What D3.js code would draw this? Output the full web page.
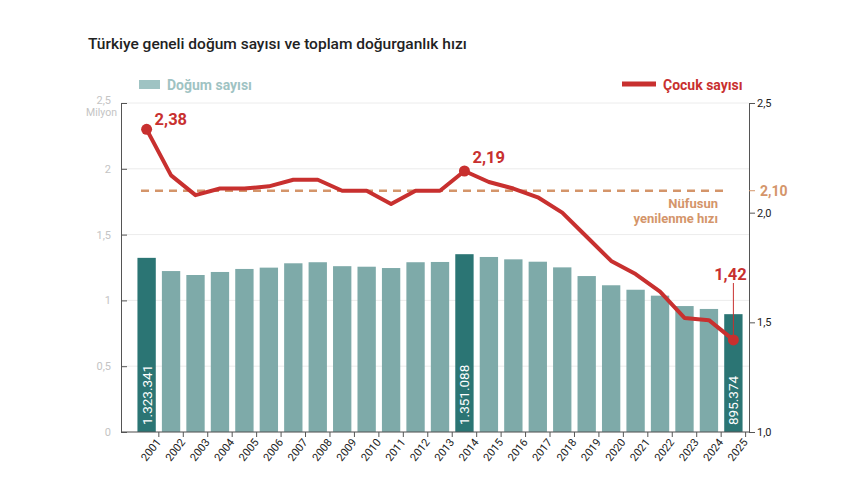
<!DOCTYPE html>
<html>
<head>
<meta charset="utf-8">
<script src="https://cdn.jsdelivr.net/npm/d3@7"></script>
<style>
  body { margin: 0; background: #fff; }
  svg { font-family: Roboto, "Noto Sans", sans-serif; }
</style>
</head>
<body>
<div id="chart"></div>
<script>
// Data
const years = ['2001','2002','2003','2004','2005','2006','2007','2008','2009','2010','2011','2012','2013',
  '2014','2015','2016','2017','2018','2019','2020','2021','2022','2023','2024','2025'];
const births = [1323341, 1223000, 1193000, 1216000, 1239000, 1249000, 1282000, 1290000, 1260000, 1256000,
  1246000, 1290000, 1292000, 1351088, 1330000, 1312000, 1294000, 1251000, 1185000, 1115000,
  1081000, 1036000, 957000, 935000, 895374];
const fertility = [2.38, 2.17, 2.08, 2.11, 2.11, 2.12, 2.15, 2.15, 2.10, 2.10, 2.04, 2.10, 2.10,
  2.19, 2.14, 2.11, 2.07, 2.00, 1.89, 1.78, 1.72, 1.64, 1.52, 1.51, 1.42];
const highlightYears = ['2001', '2014', '2025'];
const leftTicks = [0, 0.5, 1, 1.5, 2, 2.5];
const rightTicks = [1.0, 1.5, 2.0, 2.5];
const replacementRate = 2.10;

const W = 864, H = 486;
const plotLeft = 121, plotRight = 749, plotTop = 103, plotBottom = 432;
const fmtComma = d => String(d).replace('.', ',');
const fmtThousands = d => d3.format(',')(d).replace(/,/g, '.');

const svg = d3.select('#chart').append('svg').attr('width', W).attr('height', H);

// Scales
const x = d3.scaleBand().domain(years).range([135, 745]).paddingInner(0.25).paddingOuter(0.1);
const yL = d3.scaleLinear().domain([0, 2.5]).range([plotBottom, plotTop]);
const yR = d3.scaleLinear().domain([1, 2.5]).range([plotBottom, plotTop]);
const cx = d => x(d) + x.bandwidth() / 2;

// Title
svg.append('text').attr('x', 88).attr('y', 49)
  .attr('font-size', 15.5).attr('font-weight', 500).attr('fill', '#222')
  .text('Türkiye geneli doğum sayısı ve toplam doğurganlık hızı');

// Grid lines
svg.append('g').selectAll('line').data(leftTicks).join('line')
  .attr('x1', plotLeft).attr('x2', plotRight)
  .attr('y1', d => yL(d)).attr('y2', d => yL(d))
  .attr('stroke', '#ececec').attr('stroke-width', 1);

// Bars
svg.append('g').selectAll('rect').data(years).join('rect')
  .attr('x', d => x(d))
  .attr('width', x.bandwidth())
  .attr('y', (d, i) => yL(births[i] / 1e6))
  .attr('height', (d, i) => plotBottom - yL(births[i] / 1e6))
  .attr('fill', d => highlightYears.includes(d) ? '#2b7574' : '#7eaaa9');

// Bar value labels
svg.append('g').selectAll('text').data(highlightYears).join('text')
  .attr('transform', d => `translate(${cx(d) + 5},${plotBottom - 7}) rotate(-90)`)
  .attr('font-size', 13.5).attr('fill', '#fff')
  .text(d => fmtThousands(births[years.indexOf(d)]));

// Left axis
const axL = svg.append('g').attr('transform', `translate(${plotLeft},0)`)
  .call(d3.axisLeft(yL).tickValues(leftTicks).tickSize(-6).tickPadding(10).tickFormat(fmtComma));
axL.select('.domain').attr('stroke', '#555');
axL.selectAll('.tick line').attr('stroke', '#555');
axL.selectAll('.tick text').attr('font-size', 11).attr('fill', '#c4c4c4').attr('font-family', 'Roboto')
  .attr('dy', d => d === 2.5 ? '0.05em' : '0.32em');
svg.append('text').attr('x', 117).attr('y', 116).attr('text-anchor', 'end')
  .attr('font-size', 10.5).attr('fill', '#c4c4c4').text('Milyon');

// Right axis
const axR = svg.append('g').attr('transform', `translate(${plotRight},0)`)
  .call(d3.axisRight(yR).tickValues(rightTicks).tickSize(6).tickPadding(2));
axR.select('.domain').attr('stroke', '#555');
axR.selectAll('.tick line').attr('stroke', '#555');
axR.selectAll('.tick text').attr('font-size', 11).attr('fill', '#222').attr('font-family', 'Roboto')
  .text(d => d3.format('.1f')(d).replace('.', ','));

// Bottom axis
const axB = svg.append('g').attr('transform', `translate(0,${plotBottom})`)
  .call(d3.axisBottom(x).tickSize(0).tickPadding(6));
axB.select('.domain').attr('stroke', '#555').attr('d', `M${plotLeft},0H${plotRight}`);
axB.selectAll('.tick text').attr('font-size', 11).attr('fill', '#222').attr('font-family', 'Roboto')
  .attr('text-anchor', 'end')
  .attr('transform', 'translate(4,2) rotate(-52)');
svg.append('g').selectAll('line').data(years).join('line')
  .attr('x1', d => x(d) + x.bandwidth() + x.step() * x.paddingInner() / 2)
  .attr('x2', d => x(d) + x.bandwidth() + x.step() * x.paddingInner() / 2)
  .attr('y1', plotBottom).attr('y2', plotBottom + 5)
  .attr('stroke', '#555');

// Replacement rate dashed line
svg.append('line').attr('x1', 141).attr('x2', 724)
  .attr('y1', yR(replacementRate)).attr('y2', yR(replacementRate))
  .attr('stroke', '#d4956a').attr('stroke-width', 2.5).attr('stroke-dasharray', '8,6');
svg.append('line').attr('x1', plotRight).attr('x2', plotRight + 6)
  .attr('y1', yR(replacementRate)).attr('y2', yR(replacementRate))
  .attr('stroke', '#d4956a').attr('stroke-width', 1);
svg.append('text').attr('x', 760).attr('y', yR(replacementRate) + 5)
  .attr('font-size', 14).attr('font-weight', 700).attr('fill', '#d4956a').text('2,10');
const nuf = svg.append('text').attr('text-anchor', 'end').attr('font-size', 13)
  .attr('font-weight', 700).attr('fill', '#d4956a');
nuf.append('tspan').attr('x', 718).attr('y', 208).text('Nüfusun');
nuf.append('tspan').attr('x', 718).attr('y', 223).text('yenilenme hızı');

// Fertility line
const line = d3.line().x(d => cx(d)).y((d, i) => yR(fertility[i]));
svg.append('path').datum(years)
  .attr('d', line).attr('fill', 'none')
  .attr('stroke', '#c8302f').attr('stroke-width', 4).attr('stroke-linejoin', 'round');

// Highlight dots and labels
svg.append('g').selectAll('circle').data(highlightYears).join('circle')
  .attr('cx', d => cx(d)).attr('cy', d => yR(fertility[years.indexOf(d)]))
  .attr('r', 5.5).attr('fill', '#c8302f');

const i25 = years.indexOf('2025');
svg.append('line').attr('x1', cx('2025')).attr('x2', cx('2025'))
  .attr('y1', 283).attr('y2', yR(fertility[i25]))
  .attr('stroke', '#c8302f').attr('stroke-width', 1);

const annot = [
  { year: '2001', dx: 8, dy: -4, anchor: 'start' },
  { year: '2014', dx: 8, dy: -8, anchor: 'start' },
  { year: '2025', dx: -3, dy: -60, anchor: 'middle' }
];
svg.append('g').selectAll('text').data(annot).join('text')
  .attr('x', d => cx(d.year) + d.dx)
  .attr('y', d => yR(fertility[years.indexOf(d.year)]) + d.dy)
  .attr('text-anchor', d => d.anchor)
  .attr('font-size', 16.5).attr('font-weight', 700).attr('fill', '#c8302f')
  .text(d => fmtComma(fertility[years.indexOf(d.year)].toFixed(2)));

// Legends
svg.append('rect').attr('x', 139).attr('y', 80).attr('width', 21).attr('height', 9).attr('fill', '#9fc3c3');
svg.append('text').attr('x', 167).attr('y', 90).attr('font-size', 14).attr('font-weight', 700)
  .attr('fill', '#9fc3c3').text('Doğum sayısı');
svg.append('line').attr('x1', 622).attr('x2', 656).attr('y1', 84).attr('y2', 84)
  .attr('stroke', '#c8302f').attr('stroke-width', 5);
svg.append('text').attr('x', 663).attr('y', 90).attr('font-size', 14).attr('font-weight', 700)
  .attr('fill', '#c8302f').text('Çocuk sayısı');
</script>
</body>
</html>
